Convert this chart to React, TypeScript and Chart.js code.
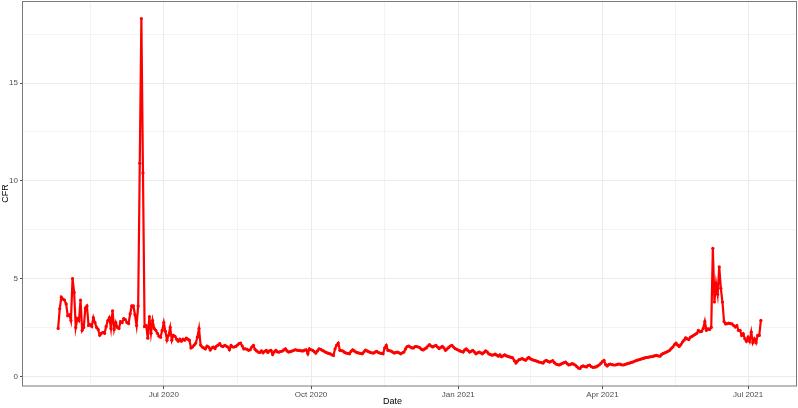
import React, { useEffect, useRef } from "react";
import { Chart, registerables } from "chart.js";

Chart.register(...registerables);

// First date of the series (day index 0)
const startDate = "2020-04-26";

// Daily CFR values
const cfrPart1 = [
  2.45, 3.45, 4.05, 3.95, 3.9, 3.7, 3.1, 3.15, 2.85, 5.0,
  4.3, 2.5, 2.95, 2.85, 3.9, 2.35, 2.5, 3.5, 3.6, 2.6,
  2.65, 2.55, 3.0, 2.75, 2.5, 2.4, 2.1, 2.2, 2.25, 2.2,
  2.55, 2.85, 3.0, 2.45, 3.35, 2.4, 2.75, 2.5, 2.45, 2.8,
  2.75, 2.95, 2.9, 2.75, 2.7, 3.2, 3.6, 3.6, 3.15, 2.6,
];
const cfrPart2 = [
  3.6, 10.9, 18.3, 10.4, 2.55, 2.6, 1.95, 3.05, 2.2, 2.85,
  2.45, 2.35, 2.2, 2.05, 2.0, 2.35, 2.75, 2.3, 1.85, 2.1,
  2.5, 1.85, 2.1, 2.05, 1.9, 1.8, 1.9, 1.8, 1.9, 1.85,
  1.95, 1.9, 1.85, 1.45, 1.5, 1.6, 1.7, 2.0, 2.45, 1.6,
  1.5, 1.45, 1.4, 1.55, 1.5, 1.35, 1.45, 1.5, 1.42, 1.55,
];
const cfrPart3 = [
  1.6, 1.67, 1.55, 1.52, 1.58, 1.55, 1.5, 1.36, 1.58, 1.5,
  1.5, 1.53, 1.6, 1.67, 1.7, 1.55, 1.4, 1.41, 1.38, 1.33,
  1.36, 1.5, 1.58, 1.38, 1.3, 1.24, 1.22, 1.3, 1.2, 1.28,
  1.33, 1.22, 1.3, 1.33, 1.12, 1.25, 1.33, 1.25, 1.24, 1.27,
  1.29, 1.35, 1.41, 1.3, 1.24, 1.26, 1.29, 1.32, 1.36, 1.34,
];
const cfrPart4 = [
  1.33, 1.32, 1.3, 1.3, 1.34, 1.36, 1.15, 1.41, 1.36, 1.33,
  1.26, 1.19, 1.3, 1.41, 1.38, 1.33, 1.29, 1.24, 1.2, 1.17,
  1.15, 1.1, 1.07, 1.41, 1.6, 1.7, 1.33, 1.31, 1.29, 1.22,
  1.19, 1.17, 1.15, 1.28, 1.36, 1.3, 1.24, 1.21, 1.19, 1.17,
  1.15, 1.25, 1.34, 1.3, 1.26, 1.22, 1.2, 1.19, 1.24, 1.28,
];
const cfrPart5 = [
  1.22, 1.19, 1.17, 1.15, 1.45, 1.58, 1.33, 1.31, 1.29, 1.24,
  1.19, 1.22, 1.24, 1.2, 1.15, 1.2, 1.24, 1.4, 1.52, 1.55,
  1.5, 1.45, 1.45, 1.52, 1.52, 1.5, 1.46, 1.38, 1.35, 1.4,
  1.45, 1.55, 1.62, 1.55, 1.5, 1.55, 1.58, 1.5, 1.42, 1.48,
  1.53, 1.45, 1.33, 1.4, 1.48, 1.55, 1.58, 1.5, 1.42, 1.38,
];
const cfrPart6 = [
  1.34, 1.3, 1.27, 1.24, 1.35, 1.4, 1.32, 1.24, 1.28, 1.33,
  1.25, 1.15, 1.2, 1.24, 1.2, 1.15, 1.22, 1.3, 1.25, 1.15,
  1.12, 1.08, 1.1, 1.14, 1.08, 1.03, 1.1, 1.0, 1.05, 1.1,
  1.05, 1.02, 0.99, 0.97, 0.94, 0.8, 0.68, 0.78, 0.85, 0.88,
  0.9, 0.86, 0.82, 0.9, 0.97, 0.9, 0.85, 0.83, 0.8, 0.78,
];
const cfrPart7 = [
  0.74, 0.72, 0.7, 0.68, 0.78, 0.82, 0.76, 0.73, 0.77, 0.8,
  0.7, 0.63, 0.6, 0.58, 0.62, 0.66, 0.7, 0.73, 0.65, 0.58,
  0.6, 0.65, 0.62, 0.58, 0.5, 0.42, 0.4, 0.5, 0.53, 0.5,
  0.48, 0.55, 0.58, 0.5, 0.46, 0.47, 0.48, 0.53, 0.58, 0.66,
  0.75, 0.82, 0.6, 0.53, 0.6, 0.63, 0.6, 0.58, 0.58, 0.6,
];
const cfrPart8 = [
  0.63, 0.62, 0.59, 0.58, 0.6, 0.63, 0.66, 0.68, 0.71, 0.73,
  0.77, 0.8, 0.83, 0.85, 0.88, 0.9, 0.93, 0.96, 0.97, 0.98,
  1.0, 1.01, 1.03, 1.06, 1.07, 1.04, 1.03, 1.12, 1.17, 1.2,
  1.24, 1.28, 1.33, 1.42, 1.5, 1.62, 1.7, 1.6, 1.53, 1.62,
  1.75, 1.85, 1.97, 1.92, 1.88, 2.0, 2.04, 2.1, 2.15, 2.2,
];
const cfrPart9 = [
  2.35, 2.28, 2.3, 2.45, 2.81, 2.35, 2.43, 2.4, 2.5, 6.55,
  3.8, 4.75, 4.2, 5.6, 4.5, 3.8, 2.8, 2.68, 2.7, 2.72,
  2.7, 2.68, 2.6, 2.52, 2.6, 2.35, 2.35, 2.09, 2.18, 1.92,
  1.79, 2.0, 1.79, 2.26, 1.72, 1.92, 1.72, 2.09, 2.09, 2.86,
];

// Axis breaks
const xBreakDates = ["2020-04-01", "2020-07-01", "2020-10-01", "2021-01-01", "2021-04-01", "2021-07-01", "2021-10-01"];
const xBreakLabels = ["Apr 2020", "Jul 2020", "Oct 2020", "Jan 2021", "Apr 2021", "Jul 2021", "Oct 2021"];
const yBreaks = [0, 5, 10, 15];
const yMinorBreaks = [2.5, 7.5, 12.5, 17.5];
const xTitle = "Date";
const yTitle = "CFR";

const DAY = 86400000;
const dayIndex = (iso: string) => Math.round((Date.parse(iso + "T00:00:00Z") - Date.parse(startDate + "T00:00:00Z")) / DAY);

export default function App() {
  const ref = useRef<HTMLCanvasElement | null>(null);

  useEffect(() => {
    document.body.style.margin = "0";
    const values = [
      ...cfrPart1, ...cfrPart2, ...cfrPart3, ...cfrPart4, ...cfrPart5,
      ...cfrPart6, ...cfrPart7, ...cfrPart8, ...cfrPart9,
    ];
    const points = values.map((v, i) => ({ x: i, y: v }));
    const n = values.length - 1;
    const xMin = -0.05 * n;
    const xMax = n + 0.05 * n;
    const ys = values;
    const yLo = Math.min(...ys), yHi = Math.max(...ys);
    const yPad = 0.05 * (yHi - yLo);

    const majorX = xBreakDates.map(dayIndex);
    const minorX: number[] = [];
    for (let i = 0; i < majorX.length - 1; i++) minorX.push((majorX[i] + majorX[i + 1]) / 2);
    const labelFor: Record<number, string> = {};
    majorX.forEach((d, i) => (labelFor[d] = xBreakLabels[i]));

    const isMajorX = (v: number) => majorX.includes(v);
    const isMajorY = (v: number) => yBreaks.includes(v);

    const font = "'Liberation Sans', Arial, sans-serif";

    const borderPlugin = {
      id: "panelBorder",
      afterDatasetsDraw(chart: any) {
        const { ctx, chartArea: a } = chart;
        ctx.save();
        ctx.strokeStyle = "#7A7A7A";
        ctx.lineWidth = 1;
        ctx.strokeRect(Math.round(a.left) - 0.5, Math.round(a.top) + 0.5, Math.round(a.right - a.left) + 1, Math.round(a.bottom - a.top) - 0.5);
        ctx.restore();
      },
      afterDraw(chart: any) {
        const { ctx, chartArea: a } = chart;
        ctx.save();
        ctx.fillStyle = "#000000";
        ctx.font = `9px ${font}`;
        ctx.textAlign = "center";
        ctx.textBaseline = "middle";
        ctx.fillText(xTitle, (a.left + a.right) / 2 - 17, a.bottom + 16);
        ctx.restore();
      },
    };

    const chart = new Chart(ref.current!, {
      type: "line",
      data: {
        datasets: [
          {
            data: points,
            borderColor: "#FF0000",
            backgroundColor: "#FF0000",
            borderWidth: 2.2,
            pointRadius: 1.6,
            pointBorderWidth: 0,
            pointBackgroundColor: "#FF0000",
            tension: 0,
          },
        ],
      },
      options: {
        animation: false,
        responsive: true,
        maintainAspectRatio: false,
        layout: { autoPadding: false, padding: { top: 1, right: 2, left: 0, bottom: 0 } },
        plugins: { legend: { display: false }, tooltip: { enabled: false } },
        scales: {
          x: {
            type: "linear",
            min: xMin,
            max: xMax,
            afterBuildTicks: (scale: any) => {
              const all = [...majorX, ...minorX].filter((v) => v >= xMin && v <= xMax).sort((a, b) => a - b);
              scale.ticks = all.map((v) => ({ value: v }));
            },
            afterFit: (scale: any) => {
              scale.height = 22;
              scale.paddingLeft = 0;
              scale.paddingRight = 0;
            },
            ticks: {
              autoSkip: false,
              maxRotation: 0,
              padding: 1,
              color: "#4D4D4D",
              font: { family: font, size: 8 },
              callback: (v: any) => labelFor[v as number] ?? "",
            },
            grid: {
              color: "#EBEBEB",
              lineWidth: (c: any) => (c.tick && isMajorX(c.tick.value) ? 1 : 0.6),
              tickColor: (c: any) => (c.tick && isMajorX(c.tick.value) ? "#4D4D4D" : "rgba(0,0,0,0)"),
              tickLength: 3,
              drawTicks: true,
            },
            border: { display: false },
            title: { display: false },
          },
          y: {
            type: "linear",
            min: yLo - yPad,
            max: yHi + yPad,
            afterBuildTicks: (scale: any) => {
              scale.ticks = [...yBreaks, ...yMinorBreaks].sort((a, b) => a - b).map((v) => ({ value: v }));
            },
            afterFit: (scale: any) => {
              scale.width = 23;
              scale.paddingTop = 0;
              scale.paddingBottom = 0;
            },
            ticks: {
              autoSkip: false,
              padding: 2,
              color: "#4D4D4D",
              font: { family: font, size: 8 },
              callback: (v: any) => (yBreaks.includes(v as number) ? String(v) : ""),
            },
            grid: {
              color: "#EBEBEB",
              lineWidth: (c: any) => (c.tick && isMajorY(c.tick.value) ? 1 : 0.6),
              tickColor: (c: any) => (c.tick && isMajorY(c.tick.value) ? "#4D4D4D" : "rgba(0,0,0,0)"),
              tickLength: 3,
              drawTicks: true,
            },
            border: { display: false },
            title: {
              display: true,
              text: yTitle,
              color: "#000000",
              font: { family: font, size: 9 },
              padding: { top: 0, bottom: 0 },
            },
          },
        },
      },
      plugins: [borderPlugin],
    });
    return () => chart.destroy();
  }, []);

  return (
    <div style={{ position: "absolute", left: 0, top: 0, width: 798, height: 408, background: "#fff" }}>
      <canvas ref={ref} />
    </div>
  );
}
